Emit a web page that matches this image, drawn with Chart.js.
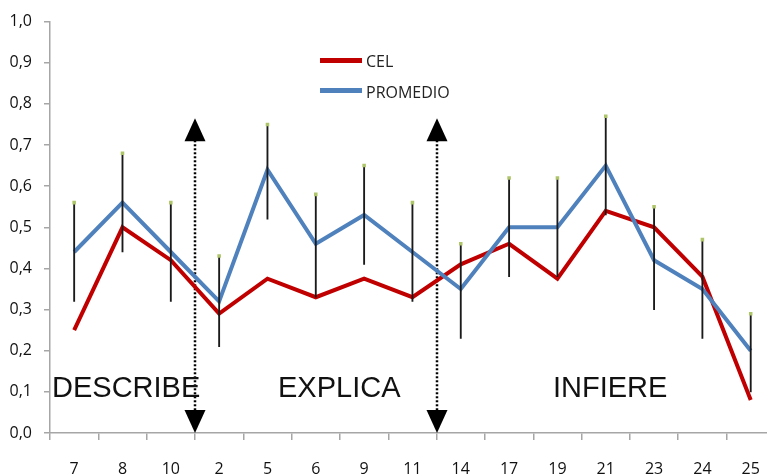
<!DOCTYPE html>
<html>
<head>
<meta charset="utf-8">
<script src="https://cdn.jsdelivr.net/npm/chart.js@4.4.1/dist/chart.umd.min.js"></script>
<style>
    html, body { margin: 0; padding: 0; background: #fff; overflow: hidden; }
    #wrap { position: relative; width: 767px; height: 476px; overflow: hidden; }
    #myChart { position: absolute; left: 0; top: 0; }
    .lbl { position: absolute; font-family: "Liberation Sans", Arial, sans-serif; font-size: 29px; line-height: 29px; color: #111; white-space: nowrap; }
    .leg { position: absolute; font-family: "Open Sans", sans-serif; font-size: 16px; line-height: 16px; color: #222; white-space: nowrap; }
    .legline { position: absolute; left: 320px; width: 42px; }
</style>
</head>
<body>
<div id="wrap">
    <canvas id="myChart" width="780" height="490"></canvas>
    <div class="legline" style="top:58px;height:5px;background:#c00000;"></div>
    <div class="leg" style="left:366px;top:53px;">CEL</div>
    <div class="legline" style="top:88px;height:5px;background:#4f81bd;"></div>
    <div class="leg" style="left:366px;top:84px;">PROMEDIO</div>
    <div class="lbl" style="left:52px;top:373px;">DESCRIBE</div>
    <div class="lbl" style="left:278px;top:373px;">EXPLICA</div>
    <div class="lbl" style="left:553px;top:373px;">INFIERE</div>
</div>
<script>
var labels = ['7', '8', '10', '2', '5', '6', '9', '11', '14', '17', '19', '21', '23', '24', '25'];
var cel = [0.25, 0.50, 0.42, 0.29, 0.375, 0.33, 0.375, 0.33, 0.41, 0.46, 0.375, 0.54, 0.50, 0.38, 0.08];
var promedio = [0.44, 0.56, 0.44, 0.32, 0.64, 0.46, 0.53, 0.44, 0.35, 0.50, 0.50, 0.65, 0.42, 0.35, 0.20];
var errHigh = [0.56, 0.68, 0.56, 0.43, 0.75, 0.58, 0.65, 0.56, 0.46, 0.62, 0.62, 0.77, 0.55, 0.47, 0.29];
var errLow = [0.32, 0.44, 0.32, 0.21, 0.52, 0.33, 0.41, 0.32, 0.23, 0.38, 0.38, 0.53, 0.30, 0.23, 0.10];
// arrows sit between categories (index values), from 0 up to arrowTop
var arrowAt = [2.5, 7.5];
var arrowTop = 0.765;

var errRanges = [];
for (var i = 0; i < errHigh.length; i++) {
    errRanges.push([errLow[i], errHigh[i]]);
}

var arrowPlugin = {
    id: 'arrows',
    beforeDatasetsDraw: function(chart) {
        var ctx = chart.ctx;
        var x = chart.scales.x;
        var y = chart.scales.y;
        var top = y.getPixelForValue(arrowTop);
        var bot = y.getPixelForValue(0);
        ctx.save();
        ctx.fillStyle = '#000';
        ctx.strokeStyle = '#000';
        arrowAt.forEach(function(a) {
            var px = Math.round(x.getPixelForValue(a));
            ctx.setLineDash([2, 2]);
            ctx.lineWidth = 2.5;
            ctx.beginPath();
            ctx.moveTo(px, top + 22);
            ctx.lineTo(px, bot - 22);
            ctx.stroke();
            ctx.setLineDash([]);
            ctx.beginPath();
            ctx.moveTo(px, top);
            ctx.lineTo(px - 10.5, top + 23);
            ctx.lineTo(px + 10.5, top + 23);
            ctx.closePath();
            ctx.fill();
            ctx.beginPath();
            ctx.moveTo(px, bot);
            ctx.lineTo(px - 10.5, bot - 23);
            ctx.lineTo(px + 10.5, bot - 23);
            ctx.closePath();
            ctx.fill();
        });
        ctx.restore();
    }
};

var ctx = document.getElementById('myChart').getContext('2d');
var chart = new Chart(ctx, {
    type: 'line',
    data: {
        labels: labels,
        datasets: [
            {
                type: 'bar',
                label: 'err',
                data: errRanges,
                backgroundColor: '#1a1a1a',
                borderWidth: 0,
                barThickness: 1.2,
                order: 0
            },
            {
                label: 'top',
                data: errHigh,
                showLine: false,
                pointStyle: 'rect',
                pointRadius: 2.5,
                pointBackgroundColor: '#aec56a',
                pointBorderColor: '#aec56a',
                pointBorderWidth: 0,
                order: -1
            },
            {
                label: 'PROMEDIO',
                data: promedio,
                borderColor: '#4f81bd',
                borderWidth: 4,
                pointRadius: 0,
                tension: 0,
                order: 1
            },
            {
                label: 'CEL',
                data: cel,
                borderColor: '#c00000',
                borderWidth: 4,
                pointRadius: 0,
                tension: 0,
                order: 2
            }
        ]
    },
    options: {
        responsive: false,
        animation: false,
        layout: { padding: { top: 20, right: 2, left: 0, bottom: 0 } },
        plugins: {
            legend: { display: false },
            tooltip: { enabled: false }
        },
        scales: {
            x: {
                offset: true,
                grid: { offset: true, drawOnChartArea: false, color: '#a6a6a6', lineWidth: 1.5, tickLength: 7 },
                border: { color: '#a6a6a6', width: 1.5 },
                ticks: { padding: 20, color: '#111', font: { family: 'Open Sans', size: 16 }, maxRotation: 0, autoSkip: false },
                afterFit: function(scale) { scale.height = 57; }
            },
            y: {
                min: 0,
                max: 1,
                grid: { drawOnChartArea: false, color: '#a6a6a6', lineWidth: 1.5, tickLength: 6 },
                border: { color: '#a6a6a6', width: 1.5 },
                ticks: {
                    stepSize: 0.1,
                    padding: 12,
                    color: '#111',
                    font: { family: 'Open Sans', size: 16 },
                    callback: function(v) { return v.toFixed(1).replace('.', ','); }
                },
                afterFit: function(scale) { scale.width = 50; }
            }
        }
    },
    plugins: [arrowPlugin]
});
</script>
</body>
</html>
